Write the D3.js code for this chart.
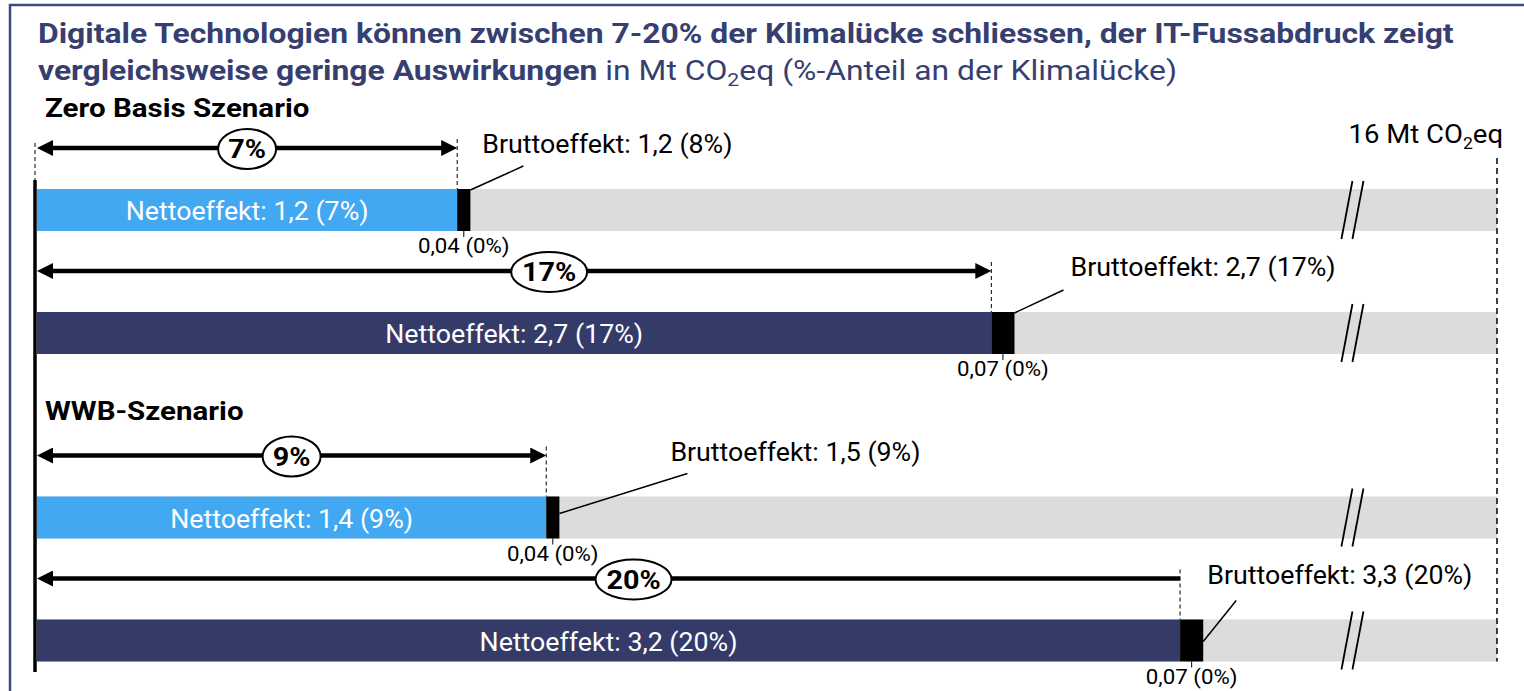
<!DOCTYPE html>
<html>
<script src="https://d3js.org/d3.v7.min.js"></script>
<style>
    body { margin: 0; background: #fff; }
    svg { font-family: Roboto, "Noto Sans", sans-serif; display: block; }
</style>
<body>
<svg width="1524" height="691"></svg>
<script>
    // values (Mt CO2eq)
    const scenarios = ["Zero Basis Szenario", "WWB-Szenario"];
    const rowScenario = [0, 0, 1, 1];
    const netValues = [1.18, 2.68, 1.43, 3.21];
    const itValues = [0.037, 0.065, 0.037, 0.065];
    const netLabels = ["1,2 (7%)", "2,7 (17%)", "1,4 (9%)", "3,2 (20%)"];
    const grossLabels = ["1,2 (8%)", "2,7 (17%)", "1,5 (9%)", "3,3 (20%)"];
    const itLabels = ["0,04 (0%)", "0,07 (0%)", "0,04 (0%)", "0,07 (0%)"];
    const shareLabels = ["7%", "17%", "9%", "20%"];
    const gapTotal = 16;       // Klimalücke
    const shownMax = 4.1;      // axis is broken before the end
    const breakAt = 3.68;

    // annotation placement
    const colors = ["#42a8f2", "#353b69", "#42a8f2", "#353b69"];
    const labelDx = [12, 56, 111, 4];
    const leaderDx = [53, 49, 128, 33];
    const leaderDy0 = [1, 1, 17, 22];
    const leaderDy1 = [-23, -22, -23, -19];
    const badgeShift = [0, 35, 0, 25];
    const rightHead = [true, true, true, false];

    const svg = d3.select('svg');
    const navy = "#363f70";
    const barH = 42;

    // the text in the original is a bit wider than plain Roboto
    function stretch(sel, k) {
        sel.each(function () {
            const w = this.getComputedTextLength();
            this.setAttribute('textLength', w * k);
            this.setAttribute('lengthAdjust', 'spacingAndGlyphs');
        });
    }

    const x = d3.scaleLinear().domain([0, shownMax]).range([37, 1497]);
    const y = d3.scaleLinear().domain([0, 1]).range([189, 312]);
    const rows = netValues.map(function (v, i) {
        return { i: i, net: v, it: itValues[i], top: y(i + rowScenario[i] * 0.5) };
    });

    // frame
    svg.append('rect').attr('x', 10).attr('y', 5).attr('width', 1530).attr('height', 700)
        .attr('fill', 'none').attr('stroke', '#3c4b7c').attr('stroke-width', 2.5);

    // title
    const title = svg.append('g').attr('transform', 'translate(38,0) scale(1.18,1)')
        .attr('fill', navy).attr('font-size', 27);
    title.append('text').attr('x', 0).attr('y', 43).attr('font-weight', 'bold')
        .text("Digitale Technologien können zwischen 7-20% der Klimalücke schliessen, der IT-Fussabdruck zeigt");
    const t2 = title.append('text').attr('x', 0).attr('y', 80);
    t2.append('tspan').attr('font-weight', 'bold').text("vergleichsweise geringe Auswirkungen");
    t2.append('tspan').text(" in Mt CO");
    t2.append('tspan').attr('dy', 6).attr('font-size', 18).text("2");
    t2.append('tspan').attr('dy', -6).text("eq (%-Anteil an der Klimalücke)");

    // scenario headers
    svg.selectAll('.scen').data(scenarios).enter().append('text')
        .attr('x', 45)
        .attr('y', function (d, k) { return y(rowScenario.indexOf(k) + k * 0.5) - 72 - k * 5; })
        .attr('font-size', 25).attr('font-weight', 'bold').attr('fill', '#000')
        .text(function (d) { return d; })
        .call(stretch, 1.18);

    // 16 Mt label
    const lab16 = svg.append('g').attr('transform', 'translate(' + (x(shownMax) + 6) + ',0) scale(1.1,1)')
        .append('text').attr('x', 0).attr('y', 143)
        .attr('text-anchor', 'end').attr('font-size', 25).attr('fill', '#000');
    lab16.append('tspan').text(gapTotal + " Mt CO");
    lab16.append('tspan').attr('dy', 6).attr('font-size', 16).text("2");
    lab16.append('tspan').attr('dy', -6).text("eq");

    // gray background bars
    svg.selectAll('.bg').data(rows).enter().append('rect')
        .attr('x', x(0)).attr('y', function (d) { return d.top; })
        .attr('width', x(shownMax) - x(0)).attr('height', barH).attr('fill', '#dcdcdc');

    // dashed end line
    svg.append('line').attr('x1', x(shownMax)).attr('x2', x(shownMax))
        .attr('y1', 158).attr('y2', rows[3].top + barH)
        .attr('stroke', '#000').attr('stroke-width', 1.5).attr('stroke-dasharray', '6,4');

    // net bars
    svg.selectAll('.net').data(rows).enter().append('rect')
        .attr('x', x(0)).attr('y', function (d) { return d.top; })
        .attr('width', function (d) { return x(d.net) - x(0); }).attr('height', barH)
        .attr('fill', function (d) { return colors[d.i]; });

    svg.selectAll('.netlab').data(rows).enter().append('text')
        .attr('x', function (d) { return (x(0) + x(d.net)) / 2; })
        .attr('y', function (d) { return d.top + 31; })
        .attr('text-anchor', 'middle').attr('font-size', 25).attr('fill', '#fff')
        .text(function (d) { return "Nettoeffekt: " + netLabels[d.i]; })
        .call(stretch, 1.07);

    // IT footprint
    svg.selectAll('.it').data(rows).enter().append('rect')
        .attr('x', function (d) { return x(d.net); }).attr('y', function (d) { return d.top; })
        .attr('width', function (d) { return x(d.net + d.it) - x(d.net); }).attr('height', barH)
        .attr('fill', '#000');

    svg.selectAll('.ittick').data(rows).enter().append('line')
        .attr('x1', function (d) { return (x(d.net) + x(d.net + d.it)) / 2; })
        .attr('x2', function (d) { return (x(d.net) + x(d.net + d.it)) / 2; })
        .attr('y1', function (d) { return d.top + barH; })
        .attr('y2', function (d) { return d.top + barH + 6; })
        .attr('stroke', '#000').attr('stroke-width', 1);

    svg.selectAll('.itlab').data(rows).enter().append('text')
        .attr('x', function (d) { return (x(d.net) + x(d.net + d.it)) / 2; })
        .attr('y', function (d) { return d.top + barH + 22; })
        .attr('text-anchor', 'middle').attr('font-size', 21).attr('fill', '#000')
        .text(function (d) { return itLabels[d.i]; })
        .call(stretch, 1.06);

    // break marks
    [0, 11].forEach(function (off) {
        svg.selectAll('.brk' + off).data(rows).enter().append('line')
            .attr('x1', x(breakAt) + off - 6).attr('x2', x(breakAt) + off + 5)
            .attr('y1', function (d) { return d.top + barH + 8; })
            .attr('y2', function (d) { return d.top - 8; })
            .attr('stroke', '#000').attr('stroke-width', 1.8);
    });

    // arrows
    const defs = svg.append('defs');
    defs.append('marker').attr('id', 'head').attr('markerUnits', 'userSpaceOnUse')
        .attr('markerWidth', 18).attr('markerHeight', 16).attr('refX', 6).attr('refY', 8)
        .attr('orient', 'auto-start-reverse')
        .append('path').attr('d', 'M0,0 L16,8 L0,16 Z').attr('fill', '#000');

    svg.selectAll('.arrow').data(rows).enter().append('line')
        .attr('x1', x(0) + 10)
        .attr('x2', function (d) { return rightHead[d.i] ? x(d.net) - 10 : x(d.net); })
        .attr('y1', function (d) { return d.top - 41; })
        .attr('y2', function (d) { return d.top - 41; })
        .attr('stroke', '#000').attr('stroke-width', 4.5)
        .attr('marker-start', 'url(#head)')
        .attr('marker-end', function (d) { return rightHead[d.i] ? 'url(#head)' : null; });

    svg.selectAll('.dash').data(rows).enter().append('line')
        .attr('x1', function (d) { return x(d.net); })
        .attr('x2', function (d) { return x(d.net); })
        .attr('y1', function (d) { return d.top - 50; })
        .attr('y2', function (d) { return d.top; })
        .attr('stroke', '#000').attr('stroke-width', 1).attr('stroke-dasharray', '4,3');

    // axis line with dashed extension
    svg.append('line').attr('x1', 35).attr('x2', 35).attr('y1', 143).attr('y2', 180)
        .attr('stroke', '#000').attr('stroke-width', 1).attr('stroke-dasharray', '4,3');
    svg.append('line').attr('x1', 35).attr('x2', 35).attr('y1', 180).attr('y2', 672)
        .attr('stroke', '#000').attr('stroke-width', 3.5);

    // share badges
    const badge = svg.selectAll('.badge').data(rows).enter().append('g')
        .attr('transform', function (d) {
            return 'translate(' + ((x(0) + x(d.net)) / 2 + badgeShift[d.i]) + ',' + (d.top - 40) + ')';
        });
    badge.append('ellipse').attr('rx', function (d) { return shareLabels[d.i].length > 2 ? 38 : 29; })
        .attr('ry', 20).attr('fill', '#fff').attr('stroke', '#000').attr('stroke-width', 2);
    badge.append('text').attr('y', 9).attr('text-anchor', 'middle')
        .attr('font-size', 25).attr('font-weight', 'bold').attr('fill', '#000')
        .text(function (d) { return shareLabels[d.i]; })
        .call(stretch, 1.15);

    // gross effect labels and leaders
    svg.selectAll('.leader').data(rows).enter().append('line')
        .attr('x1', function (d) { return x(d.net + d.it); })
        .attr('y1', function (d) { return d.top + leaderDy0[d.i]; })
        .attr('x2', function (d) { return x(d.net + d.it) + leaderDx[d.i]; })
        .attr('y2', function (d) { return d.top + leaderDy1[d.i]; })
        .attr('stroke', '#000').attr('stroke-width', 1.5);

    svg.selectAll('.gross').data(rows).enter().append('text')
        .attr('x', function (d) { return x(d.net + d.it) + labelDx[d.i]; })
        .attr('y', function (d) { return d.top - 36; })
        .attr('font-size', 25).attr('fill', '#000')
        .text(function (d) { return "Bruttoeffekt: " + grossLabels[d.i]; })
        .call(stretch, 1.07);
</script>
</body>
</html>
